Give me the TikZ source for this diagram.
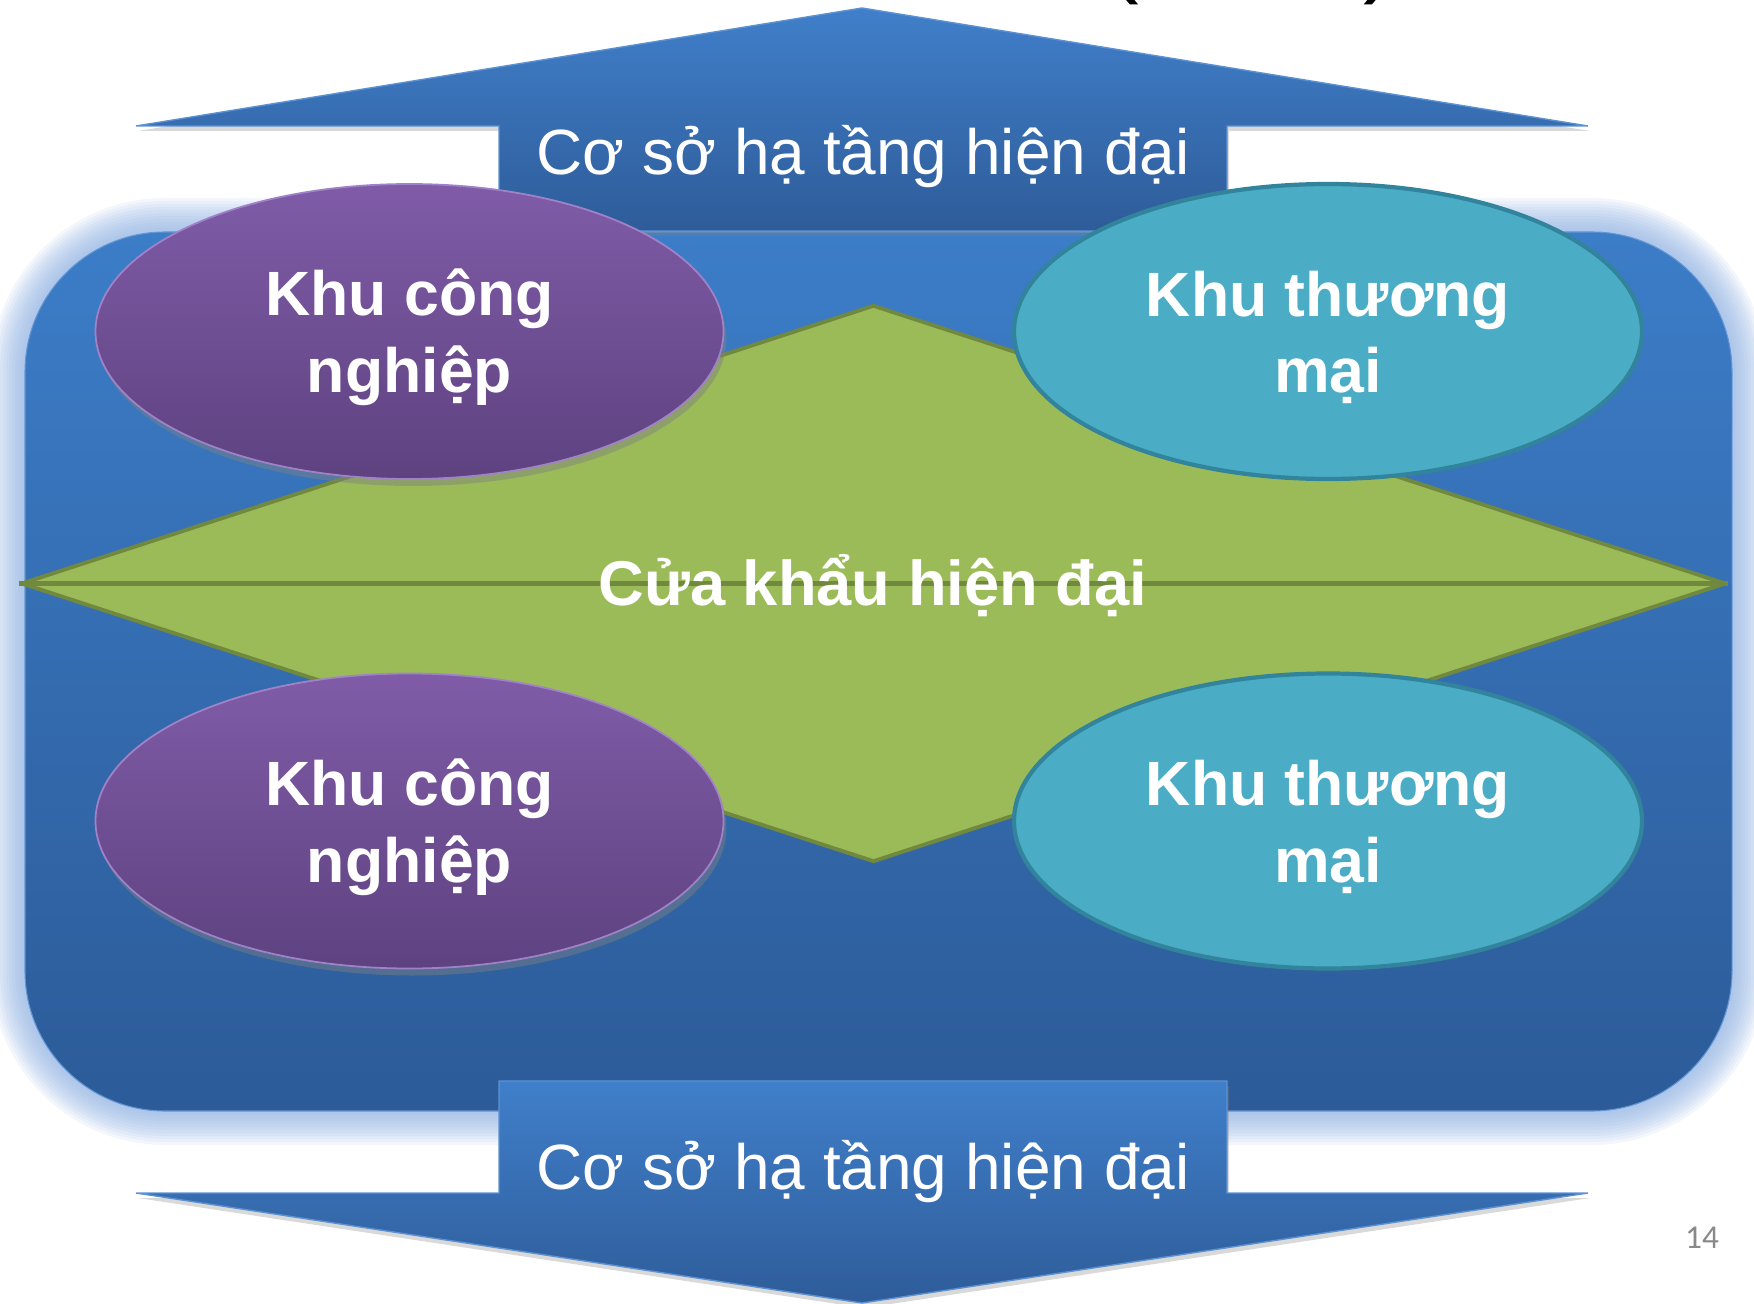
\documentclass[tikz,border=0pt]{standalone}
\usepackage{fontspec}
\setmainfont{Liberation Sans}
\newfontfamily\slidenumfont{Carlito}
\usetikzlibrary{shapes.geometric,shadows}

\definecolor{paneltop}{RGB}{60,125,200}
\definecolor{panelbottom}{RGB}{44,91,152}
\definecolor{glowblue}{RGB}{140,175,225}
\definecolor{arrowtop}{RGB}{64,127,202}
\definecolor{arrowbottom}{RGB}{46,92,153}
\definecolor{purpletop}{RGB}{128,92,168}
\definecolor{purplebottom}{RGB}{94,66,128}
\definecolor{purpleedge}{RGB}{160,130,200}
\definecolor{tealfill}{RGB}{75,172,198}
\definecolor{tealedge}{RGB}{49,132,155}
\definecolor{greenfill}{RGB}{155,187,89}
\definecolor{greenedge}{RGB}{113,137,63}
\definecolor{numgray}{RGB}{137,137,137}

\begin{document}
\begin{tikzpicture}
    [x=0.1mm, y=-0.1mm,
    % one unit is one pixel of the slide, y runs downwards
    zone/.style={ellipse, minimum width=62.8mm, minimum height=29.5mm, inner sep=0pt},
    zonetext/.style={align=center, text=white, font=\fontsize{17.8}{21.8}\selectfont\bfseries},
    industry/.style={zone, top color=purpletop, bottom color=purplebottom,
        draw=purpleedge, line width=0.5pt,
        drop shadow={shadow xshift=0.3mm, shadow yshift=-0.7mm, opacity=0.45}},
    trade/.style={zone, fill=tealfill, draw=tealedge, line width=1.2pt},
    bigarrow/.style={top color=arrowtop, bottom color=arrowbottom,
        draw=arrowtop!85!white, line width=0.4pt,
        drop shadow={shadow xshift=0.2mm, shadow yshift=-0.5mm, opacity=0.3}},
    arrowtext/.style={anchor=base, text=white, font=\fontsize{18.2}{22}\selectfont},
    gate/.style={diamond, inner sep=0pt, minimum width=170.5mm, minimum height=55.7mm,
        fill=greenfill, draw=greenedge, line width=1.1pt, line join=round},
    gatetext/.style={text=white, font=\fontsize{18}{22}\selectfont\bfseries}]

    \useasboundingbox (0,0) rectangle (1754,1304);

    % title remains cut by the top edge
    \node [anchor=base, font=\fontsize{28}{32}\selectfont] (titleopen) at (1123,-15) {(};
    \node [anchor=base, font=\fontsize{28}{32}\selectfont] (titleclose) at (1380,-15) {)};

    % the big rounded panel with its soft glow
    \coordinate (panelnw) at (25,232);
    \coordinate (panelse) at (1732,1111);
    \foreach \w in {68,62,...,8}
        \draw [glowblue, line width=\w*0.1mm, opacity=0.1, rounded corners=14mm, yshift=-0.4mm]
            (panelnw) rectangle (panelse);
    \draw [top color=paneltop, bottom color=panelbottom, draw=paneltop!80!white,
        line width=0.3pt, rounded corners=14mm] (panelnw) rectangle (panelse);

    % arrows up and down
    \draw [bigarrow] (136,126) -- (862,8) -- (1588,126) -- (1227,126)
        -- (1227,231) -- (499,231) -- (499,126) -- cycle;
    \node [arrowtext] (uptext) at (863,175) {Cơ sở hạ tầng hiện đại};

    \draw [bigarrow] (499,1081) -- (1227,1081) -- (1227,1193) -- (1588,1193)
        -- (862,1303) -- (136,1193) -- (499,1193) -- cycle;
    \node [arrowtext] (downtext) at (863,1189) {Cơ sở hạ tầng hiện đại};

    % border gate in the middle
    \node [gate] (gate) at (873.5,583.5) {};
    \draw [greenedge, line width=1.2pt] (gate.west) -- (gate.east);
    \node [gatetext] (gatelabel) at (873,586) {Cửa khẩu hiện đại};

    % zones round the gate
    \node [industry] (industry1) at (409.5,331.5) {};
    \node [trade] (trade1) at (1328,331.5) {};
    \node [industry] (industry2) at (409.5,821) {};
    \node [trade] (trade2) at (1328,821) {};

    \node [zonetext] (industry1text) at ([yshift=-0.6mm]industry1.center) {Khu công\\nghiệp};
    \node [zonetext] (trade1text) at ([yshift=-0.6mm]trade1.center) {Khu thương\\mại};
    \node [zonetext] (industry2text) at ([yshift=-0.6mm]industry2.center) {Khu công\\nghiệp};
    \node [zonetext] (trade2text) at ([yshift=-0.6mm]trade2.center) {Khu thương\\mại};

    \node [text=numgray, font=\slidenumfont\fontsize{9.5}{11}\selectfont] (pagenum) at (1702,1238) {14};
\end{tikzpicture}
\end{document}
